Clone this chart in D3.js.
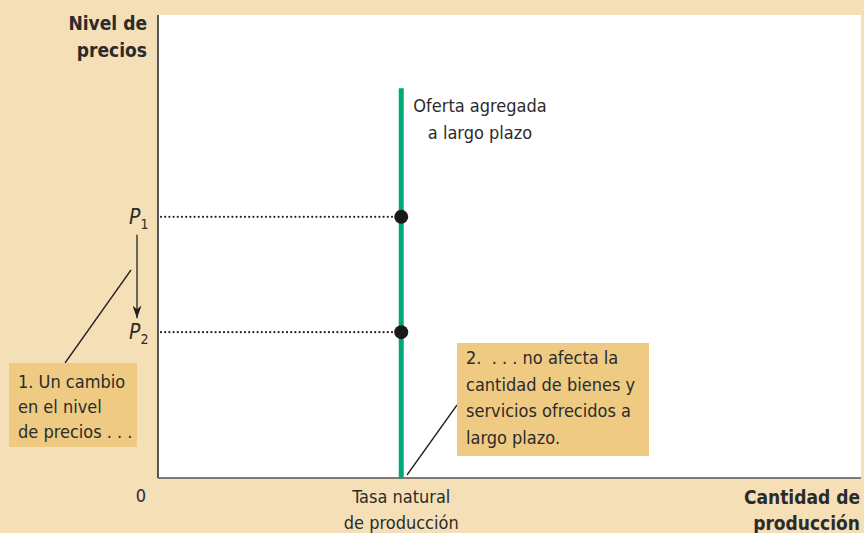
<!DOCTYPE html>
<html>
<head>
<meta charset="utf-8">
<script src="https://cdn.jsdelivr.net/npm/d3@7"></script>
<style>
  html, body { margin: 0; padding: 0; background: #f5dfb6; }
  svg { display: block; }
  text { font-family: "Liberation Sans Narrow", "DejaVu Sans Condensed", sans-serif; fill: #2b2b2b; }
</style>
</head>
<body>
<div id="chart"></div>
<script>
// chart values
const naturalRate = [34.6];          // tasa natural de producción
const lrasRange = [0, 84.2];         // vertical extent of the LRAS line
const priceLevels = [56.4, 31.5];    // P1, P2
const priceLabels = ["P", "P"];
const priceSubs = ["1", "2"];
const xDomain = [0, 100];
const yDomain = [0, 100];

const width = 864, height = 533;
const margin = { top: 15, right: 3, bottom: 55, left: 158 };

const svg = d3.select("#chart").append("svg")
  .attr("width", width)
  .attr("height", height);

const x = d3.scaleLinear().domain(xDomain).range([margin.left, width - margin.right]);
const y = d3.scaleLinear().domain(yDomain).range([height - margin.bottom, margin.top]);

// white plot area
svg.append("rect")
  .attr("x", x(0)).attr("y", y(100))
  .attr("width", x(100) - x(0)).attr("height", y(0) - y(100))
  .attr("fill", "#fff");

// axes lines
svg.append("line")
  .attr("x1", x(0)).attr("x2", x(0)).attr("y1", y(100)).attr("y2", y(0))
  .attr("stroke", "#222").attr("stroke-width", 1.5);
svg.append("line")
  .attr("x1", x(0)).attr("x2", x(100)).attr("y1", y(0)).attr("y2", y(0))
  .attr("stroke", "#555").attr("stroke-width", 1.5);

// dotted guides
svg.selectAll(".guide").data(priceLevels).enter().append("line")
  .attr("x1", x(0) + 3).attr("x2", x(naturalRate[0]))
  .attr("y1", d => y(d)).attr("y2", d => y(d))
  .attr("stroke", "#222").attr("stroke-width", 2.2)
  .attr("stroke-linecap", "round")
  .attr("stroke-dasharray", "0,4.2");

// LRAS line
svg.append("line")
  .attr("x1", x(naturalRate[0])).attr("x2", x(naturalRate[0]))
  .attr("y1", y(lrasRange[0])).attr("y2", y(lrasRange[1]))
  .attr("stroke", "#00a97a").attr("stroke-width", 5);

// points
svg.selectAll(".pt").data(priceLevels).enter().append("circle")
  .attr("cx", x(naturalRate[0])).attr("cy", d => y(d)).attr("r", 7)
  .attr("fill", "#1a1a1a");

// price labels
const pl = svg.selectAll(".plab").data(priceLevels).enter().append("text")
  .attr("x", 129).attr("y", d => y(d) + 7)
  .attr("font-size", 21).attr("font-style", "italic");
pl.append("tspan").text((d, i) => priceLabels[i]);
pl.append("tspan").attr("font-size", 14).attr("font-style", "normal").attr("dy", 5)
  .text((d, i) => priceSubs[i]);

// arrow
svg.append("defs").append("marker")
  .attr("id", "arr").attr("viewBox", "0 0 10 14").attr("refX", 5).attr("refY", 14)
  .attr("markerWidth", 9).attr("markerHeight", 14).attr("orient", "0")
  .attr("markerUnits", "userSpaceOnUse")
  .append("path").attr("d", "M0,0 L5,4 L10,0 L5,14 Z").attr("fill", "#222");
svg.append("line")
  .attr("x1", 137).attr("x2", 137).attr("y1", y(priceLevels[0]) + 18).attr("y2", y(priceLevels[1]) - 14)
  .attr("stroke", "#222").attr("stroke-width", 1.3).attr("marker-end", "url(#arr)");

// axis titles
const ylab = svg.append("text").attr("text-anchor", "end").attr("font-size", 19).attr("font-weight", "bold");
ylab.append("tspan").attr("x", 147).attr("y", 30).text("Nivel de");
ylab.append("tspan").attr("x", 147).attr("y", 57).text("precios");

const xlab = svg.append("text").attr("text-anchor", "end").attr("font-size", 19).attr("font-weight", "bold");
xlab.append("tspan").attr("x", 860).attr("y", 504).text("Cantidad de");
xlab.append("tspan").attr("x", 860).attr("y", 530).text("producción");

svg.append("text").attr("x", x(0) - 17).attr("y", 502).attr("text-anchor", "middle")
  .attr("font-size", 18).text("0");

const tn = svg.append("text").attr("text-anchor", "middle").attr("font-size", 18);
tn.append("tspan").attr("x", x(naturalRate[0])).attr("y", 503).text("Tasa natural");
tn.append("tspan").attr("x", x(naturalRate[0])).attr("y", 529).text("de producción");

const oa = svg.append("text").attr("text-anchor", "middle").attr("font-size", 18);
oa.append("tspan").attr("x", 480).attr("y", 112).text("Oferta agregada");
oa.append("tspan").attr("x", 480).attr("y", 139).text("a largo plazo");

// annotation 1
svg.append("line").attr("x1", 131).attr("y1", 270).attr("x2", 65).attr("y2", 363)
  .attr("stroke", "#222").attr("stroke-width", 1.3);
svg.append("rect").attr("x", 9).attr("y", 363).attr("width", 128).attr("height", 84)
  .attr("fill", "#eeca83");
const a1 = svg.append("text").attr("font-size", 18);
["1. Un cambio", "en el nivel", "de precios . . ."].forEach((t, i) => {
  a1.append("tspan").attr("x", 18).attr("y", 388 + i * 25).text(t);
});

// annotation 2
svg.append("line").attr("x1", 457).attr("y1", 405).attr("x2", 407).attr("y2", 475)
  .attr("stroke", "#222").attr("stroke-width", 1.3);
svg.append("rect").attr("x", 457).attr("y", 343).attr("width", 192).attr("height", 113)
  .attr("fill", "#eeca83");
const a2 = svg.append("text").attr("font-size", 18);
["2.  . . . no afecta la", "cantidad de bienes y", "servicios ofrecidos a", "largo plazo."].forEach((t, i) => {
  a2.append("tspan").attr("x", 466).attr("y", 364 + i * 26.5).attr("xml:space", "preserve").text(t);
});
</script>
</body>
</html>
